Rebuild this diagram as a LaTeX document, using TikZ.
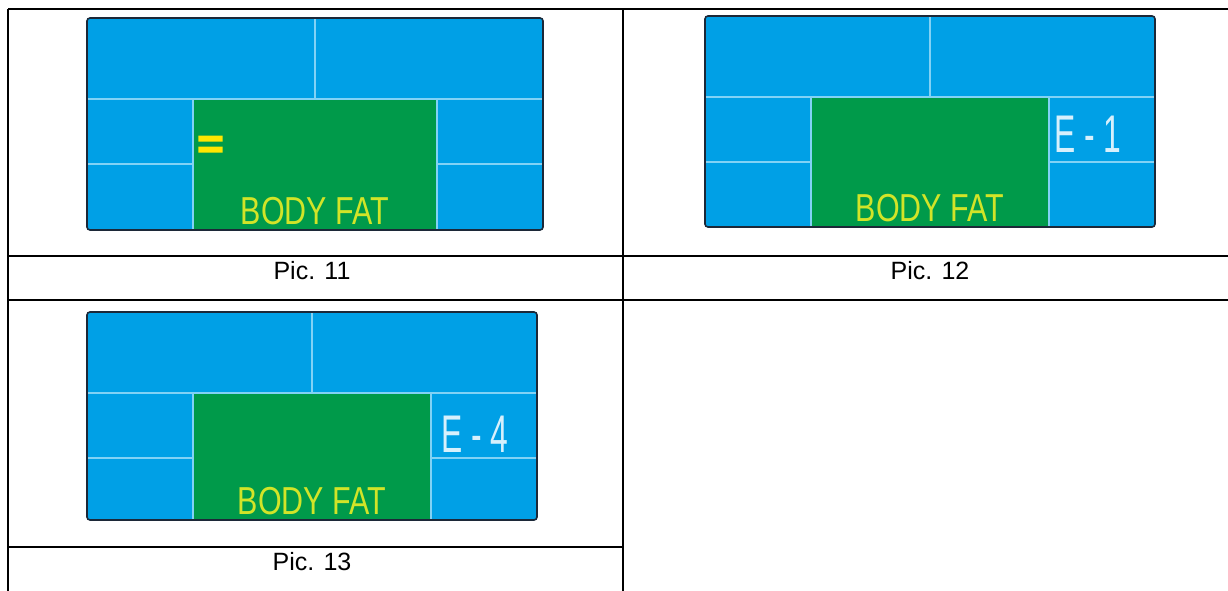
\documentclass[tikz,border=0pt]{standalone}
\usepackage{fontspec}
\setmainfont{Liberation Sans}
\newfontfamily\lcdheavy[FakeBold=4]{Liberation Sans Bold}

\definecolor{lcdblue}{RGB}{0,160,230}
\definecolor{lcdgreen}{RGB}{0,154,74}
\definecolor{lcdline}{RGB}{130,210,245}
\definecolor{lcdframe}{RGB}{28,40,56}
\definecolor{lcdlime}{RGB}{210,228,40}
\definecolor{lcdyellow}{RGB}{255,230,0}
\definecolor{lcdpale}{RGB}{215,240,252}

\tikzset{
  grid/.style={draw=black,line width=1.2pt},
  divider/.style={draw=lcdline,line width=1.6pt},
  panelframe/.style={draw=lcdframe,line width=1.6pt,rounded corners=3pt},
  lcdfat/.style={text=lcdlime,inner sep=0pt,font=\fontsize{39}{39}\selectfont},
  lcdcode/.style={text=lcdpale,inner sep=0pt,font=\fontsize{53}{53}\selectfont},
  lcdeq/.style={text=lcdyellow,inner sep=0pt,font=\lcdheavy},
  caption/.style={inner sep=0pt,font=\fontsize{25}{30}\selectfont}
}

% width, height, picture number
\newcommand{\lcdpanel}[3]{%
  \fill[lcdblue] (0,0) rectangle (#1,#2);
  \fill[lcdgreen] (106,81) rectangle (#1-106,#2);
  \draw[divider] (0,81) -- (#1,81);
  \draw[divider] (#1/2,0) -- (#1/2,81);
  \draw[divider] (106,81) -- (106,#2);
  \draw[divider] (#1-106,81) -- (#1-106,#2);
  \draw[divider] (0,146) -- (106,146);
  \draw[divider] (#1-106,146) -- (#1,146);
  \draw[panelframe] (0,0) rectangle (#1,#2);
  \node[lcdfat] (fat#3) at (#1/2,#2-19) {\scalebox{0.78}[1]{BODY FAT}};
}

\begin{document}
\begin{tikzpicture}[x=1pt,y=-1pt]
  \fill[white] (0,0) rectangle (1228,591);
  \useasboundingbox (0,0) rectangle (1228,591);

  % table
  \draw[grid] (8,9) -- (1228,9);
  \draw[grid] (8,256) -- (1228,256);
  \draw[grid] (8,300) -- (1228,300);
  \draw[grid] (8,547) -- (623,547);
  \draw[grid] (8,9) -- (8,591);
  \draw[grid] (623,9) -- (623,591);

  \begin{scope}[shift={(87,18)}]
    \lcdpanel{456}{212}{11}
    \node[lcdeq] (eq11) at (123.5,129) {\resizebox{26pt}{21pt}{=}};
  \end{scope}

  \begin{scope}[shift={(705,16)}]
    \lcdpanel{450}{211}{12}
    \node[lcdcode] (code12) at (383,118) {\scalebox{0.6}[1]{E - 1}};
  \end{scope}

  \begin{scope}[shift={(87,312)}]
    \lcdpanel{450}{208}{13}
    \node[lcdcode] (code13) at (388,122) {\scalebox{0.6}[1]{E - 4}};
  \end{scope}

  \node[caption,anchor=base] (pic11) at (312,279) {Pic. 11};
  \node[caption,anchor=base] (pic12) at (930,279) {Pic. 12};
  \node[caption,anchor=base] (pic13) at (312,570) {Pic. 13};
\end{tikzpicture}
\end{document}
